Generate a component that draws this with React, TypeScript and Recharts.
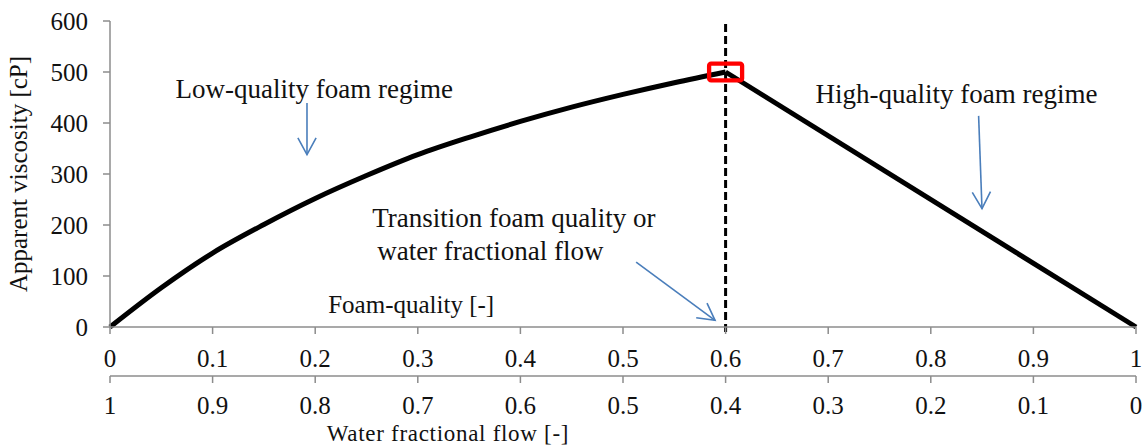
import React from 'react';
import { LineChart, Line, XAxis, YAxis, ReferenceLine, ReferenceDot } from 'recharts';

// foam quality (x) and apparent viscosity [cP]
const foamQuality = [0, 0.05, 0.1, 0.15, 0.2, 0.25, 0.3, 0.35, 0.4, 0.45, 0.5, 0.55, 0.6, 1];
const lowQualityRegime = [0, 77, 145, 201, 252, 297, 338, 372, 403, 431, 456, 479, 500, null];
const highQualityRegime = [null, null, null, null, null, null, null, null, null, null, null, null, 500, 0];

const qualityTicks = [0, 0.1, 0.2, 0.3, 0.4, 0.5, 0.6, 0.7, 0.8, 0.9, 1];
const waterFlowLabels = ['1', '0.9', '0.8', '0.7', '0.6', '0.5', '0.4', '0.3', '0.2', '0.1', '0'];
const viscosityTicks = [0, 100, 200, 300, 400, 500, 600];

const transitionQuality = 0.6;
const transitionViscosity = 500;

const data = foamQuality.map((q, i) => ({
  q,
  low: lowQualityRegime[i],
  high: highQualityRegime[i],
}));

// annotations, in chart units
const notes = [
  { x: 0.199, y: 449, text: 'Low-quality foam regime', anchor: 'middle' },
  { x: 0.825, y: 440, text: 'High-quality foam regime', anchor: 'middle' },
  { x: 0.2555, y: 197, text: 'Transition foam quality or', anchor: 'start' },
  { x: 0.2604, y: 131, text: 'water fractional flow', anchor: 'start' },
];

const arrows = [
  { from: { x: 0.192, y: 439 }, to: { x: 0.192, y: 338 } },
  { from: { x: 0.8466, y: 414 }, to: { x: 0.8499, y: 232 } },
  { from: { x: 0.5128, y: 127 }, to: { x: 0.5897, y: 13 } },
];

const FONT = "'Liberation Serif', 'Times New Roman', serif";
const TEXT = '#111';
const AXIS = '#8c8c8c';
const BLUE = '#4a7ebb';

const Arrow = (p: any) => {
  const { x1, y1, x2, y2 } = p;
  const ang = Math.atan2(y2 - y1, x2 - x1);
  const len = 19;
  const spread = 0.5;
  const w1 = [x2 - len * Math.cos(ang - spread), y2 - len * Math.sin(ang - spread)];
  const w2 = [x2 - len * Math.cos(ang + spread), y2 - len * Math.sin(ang + spread)];
  return (
    <g>
      <line x1={x1} y1={y1} x2={x2} y2={y2} stroke={BLUE} strokeWidth={1.6} />
      <polyline
        points={`${w1[0]},${w1[1]} ${x2},${y2} ${w2[0]},${w2[1]}`}
        fill="none"
        stroke={BLUE}
        strokeWidth={1.6}
      />
    </g>
  );
};

const noteShape = (text: string, anchor: string, size: number) => (p: any) => (
  <text x={p.cx} y={p.cy} textAnchor={anchor} fontSize={size} fill={TEXT} fontFamily={FONT}>
    {text}
  </text>
);

const RedBox = (p: any) => (
  <rect
    x={p.cx - 16.5}
    y={p.cy - 8.3}
    width={33}
    height={16.7}
    rx={2}
    fill="none"
    stroke="#ff0000"
    strokeWidth={4.3}
  />
);

const waterFlowTitle = (p: any) => {
  const vb = p.viewBox;
  return (
    <text
      x={vb.x + vb.width * 0.2113}
      y={vb.y + vb.height - 5}
      textAnchor="start"
      fontSize={23}
      letterSpacing={0.7}
      fill={TEXT}
      fontFamily={FONT}
    >
      Water fractional flow [-]
    </text>
  );
};

const tickStyle = { fontSize: 25, fill: TEXT, fontFamily: FONT };

export default function App() {
  return (
    <div style={{ position: 'absolute', left: 0, top: 0 }}>
      <LineChart
        width={1142}
        height={446}
        data={data}
        margin={{ top: 21, right: 6, left: 0, bottom: 0 }}
        style={{ fontFamily: FONT }}
      >
        <XAxis
          xAxisId="fq"
          dataKey="q"
          type="number"
          domain={[0, 1]}
          ticks={qualityTicks}
          interval={0}
          tickFormatter={(v: number) => String(v)}
          height={49}
          tickSize={7}
          tickMargin={15}
          tick={tickStyle}
          axisLine={{ stroke: AXIS, strokeWidth: 1.5 }}
          tickLine={{ stroke: AXIS, strokeWidth: 1.5 }}
        />
        <XAxis
          xAxisId="wf"
          dataKey="q"
          type="number"
          domain={[0, 1]}
          ticks={qualityTicks}
          interval={0}
          tickFormatter={(_v: number, i: number) => waterFlowLabels[i]}
          height={70}
          tickSize={7}
          tickMargin={13}
          tick={tickStyle}
          axisLine={{ stroke: AXIS, strokeWidth: 1.5 }}
          tickLine={{ stroke: AXIS, strokeWidth: 1.5 }}
          label={waterFlowTitle}
        />
        <YAxis
          type="number"
          domain={[0, 600]}
          ticks={viscosityTicks}
          interval={0}
          width={110}
          tickSize={7}
          tickMargin={15}
          tick={tickStyle}
          axisLine={{ stroke: AXIS, strokeWidth: 1.5 }}
          tickLine={{ stroke: AXIS, strokeWidth: 1.5 }}
          label={{
            value: 'Apparent viscosity [cP]',
            angle: -90,
            position: 'insideLeft',
            offset: 18,
            fontSize: 25,
            fill: TEXT,
            style: { textAnchor: 'middle', fontSize: 25, fill: TEXT, fontFamily: FONT },
          }}
        />
        <Line
          xAxisId="fq"
          type="monotone"
          dataKey="low"
          stroke="#000"
          strokeWidth={5}
          dot={false}
          activeDot={false}
          connectNulls={false}
          isAnimationActive={false}
        />
        <Line
          xAxisId="fq"
          type="linear"
          dataKey="high"
          stroke="#000"
          strokeWidth={5}
          dot={false}
          activeDot={false}
          connectNulls={false}
          isAnimationActive={false}
        />
        <ReferenceLine
          xAxisId="fq"
          segment={[
            { x: transitionQuality, y: 594 },
            { x: transitionQuality, y: -17 },
          ]}
          ifOverflow="visible"
          stroke="#000"
          strokeWidth={3}
          strokeDasharray="8 4"
        />
        {arrows.map((a, i) => (
          <ReferenceLine
            key={`arrow-${i}`}
            xAxisId="fq"
            segment={[a.from, a.to]}
            ifOverflow="visible"
            shape={Arrow}
          />
        ))}
        {notes.map((n, i) => (
          <ReferenceDot
            key={`note-${i}`}
            xAxisId="fq"
            x={n.x}
            y={n.y}
            r={1}
            ifOverflow="visible"
            shape={noteShape(n.text, n.anchor, 27)}
          />
        ))}
        <ReferenceDot
          xAxisId="fq"
          x={0.2127}
          y={28}
          r={1}
          ifOverflow="visible"
          shape={noteShape('Foam-quality [-]', 'start', 25)}
        />
        <ReferenceDot
          xAxisId="fq"
          x={transitionQuality}
          y={transitionViscosity}
          r={1}
          ifOverflow="visible"
          shape={RedBox}
        />
      </LineChart>
    </div>
  );
}
